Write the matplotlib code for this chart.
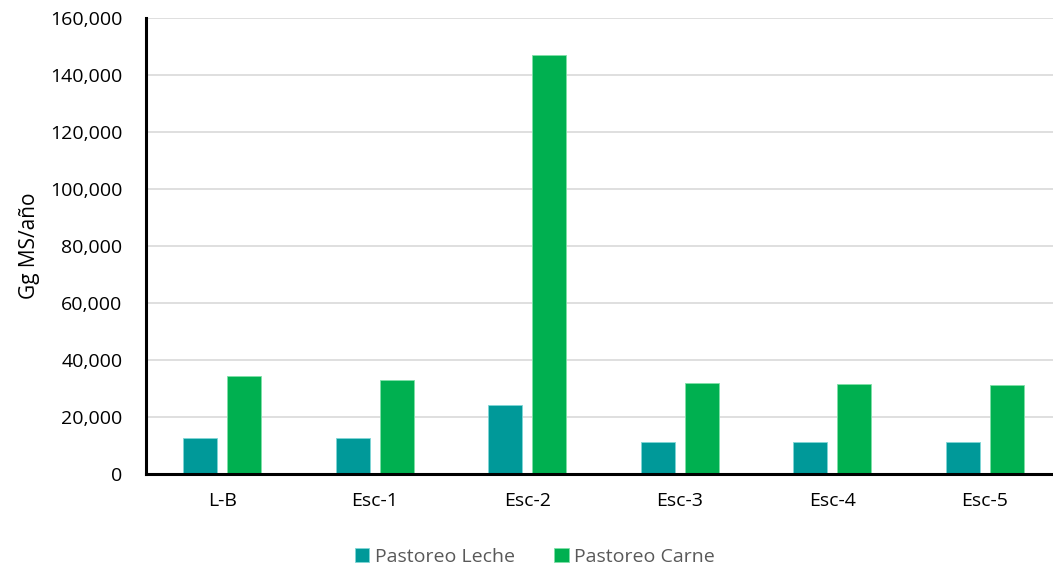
import matplotlib
matplotlib.use("Agg")
import matplotlib.pyplot as plt
import numpy as np
from matplotlib.ticker import FuncFormatter

categories = ["L-B", "Esc-1", "Esc-2", "Esc-3", "Esc-4", "Esc-5"]
leche = [12600, 12700, 24200, 11300, 11200, 11100]
carne = [34300, 33000, 147100, 32000, 31700, 31300]
series_names = ["Pastoreo Leche", "Pastoreo Carne"]
y_ticks = [0, 20000, 40000, 60000, 80000, 100000, 120000, 140000, 160000]

plt.rcParams["font.family"] = ["Open Sans", "DejaVu Sans"]

W, H = 1053, 569
fig = plt.figure(figsize=(W / 100, H / 100), dpi=100)
left, right, bottom, top = 146, 1061, 474, 18
ax = fig.add_axes([left / W, (H - bottom) / H, (right - left) / W, (bottom - top) / H])

x = np.arange(len(categories))
bw = 0.223
off = 0.144
ax.bar(x - off, leche, bw, color="#009999", label=series_names[0], zorder=3,
       edgecolor="#7fd6d6", linewidth=0.6)
ax.bar(x + off, carne, bw, color="#00b050", label=series_names[1], zorder=3,
       edgecolor="#7fe0a8", linewidth=0.6)

ax.set_xlim(-0.5, len(categories) - 0.5)
ax.set_ylim(0, 160000)
ax.set_yticks(y_ticks)
ax.yaxis.set_major_formatter(FuncFormatter(lambda v, p: f"{int(v):,}"))
ax.set_xticks(x)
ax.set_xticklabels(categories)
ax.tick_params(axis="both", length=0, labelsize=14, colors="black")
ax.tick_params(axis="x", pad=13)
ax.tick_params(axis="y", pad=17)
ax.grid(axis="y", color="#d9d9d9", linewidth=1.2, zorder=0)
ax.set_axisbelow(True)
for s in ["top", "right"]:
    ax.spines[s].set_visible(False)
for s in ["left", "bottom"]:
    ax.spines[s].set_linewidth(2.2)
    ax.spines[s].set_color("black")
    ax.spines[s].set_zorder(4)

fig.text(30 / W, (H - 246) / H, "Gg MS/año", rotation=90, ha="center", va="center",
         fontsize=15, color="black")

handles, labels = ax.get_legend_handles_labels()
fig.legend(handles, labels, loc="center", bbox_to_anchor=(535 / W, (H - 557) / H),
           ncol=2, frameon=False, fontsize=14, handlelength=0.75, handleheight=0.75,
           handletextpad=0.3, columnspacing=2.0, labelcolor="#595959")

fig.savefig("out.png", dpi=100)
